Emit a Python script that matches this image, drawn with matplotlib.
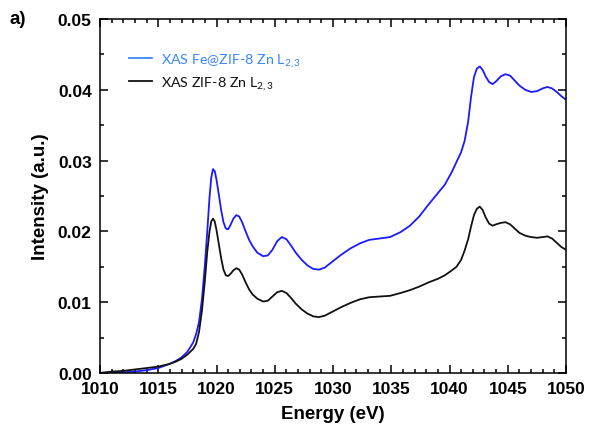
import matplotlib
matplotlib.use("Agg")
import matplotlib.pyplot as plt
from matplotlib.ticker import MultipleLocator, FormatStrFormatter

plt.rcParams['font.family'] = ['Liberation Sans', 'DejaVu Sans']
plt.rcParams['mathtext.fontset'] = 'custom'
plt.rcParams['mathtext.rm'] = 'Lato'
plt.rcParams['mathtext.it'] = 'Lato'

energy = [1010, 1011, 1012, 1013, 1014, 1015, 1016, 1016.5, 1017, 1017.5, 1018, 1018.25,
          1018.5, 1018.75, 1019.0, 1019.2, 1019.4, 1019.55, 1019.7, 1019.85, 1020.0, 1020.2,
          1020.4, 1020.6, 1020.8, 1021.0, 1021.2, 1021.45, 1021.7, 1021.95, 1022.2, 1022.5,
          1022.8, 1023.1, 1023.5, 1024.0, 1024.4, 1024.8, 1025.2, 1025.6, 1026.0, 1026.4,
          1026.8, 1027.3, 1027.8, 1028.3, 1028.8, 1029.3, 1030.0, 1030.7, 1031.5, 1032.3,
          1033.1, 1034.0, 1034.9, 1035.8, 1036.6, 1037.4, 1038.2, 1039.0, 1039.6, 1040.2,
          1040.6, 1041.0, 1041.3, 1041.6, 1041.85, 1042.1, 1042.35, 1042.6, 1042.85, 1043.1,
          1043.4, 1043.7, 1044.0, 1044.4, 1044.8, 1045.2, 1045.6, 1046.0, 1046.5, 1047.0,
          1047.5, 1048.0, 1048.4, 1048.8, 1049.2, 1049.6, 1050.0]

fe_zif8 = [0.0000, 0.0001, 0.0001, 0.0002, 0.0004, 0.0007, 0.0013, 0.0017, 0.0022, 0.0030,
           0.0043, 0.0055, 0.0072, 0.0104, 0.0152, 0.0198, 0.0248, 0.0276, 0.0288, 0.0285,
           0.0273, 0.0252, 0.0230, 0.0213, 0.0204, 0.0203, 0.0209, 0.0218, 0.0223, 0.0221,
           0.0213, 0.0200, 0.0188, 0.0179, 0.0170, 0.0165, 0.0166, 0.0174, 0.0186, 0.0192,
           0.0189, 0.0180, 0.0170, 0.0160, 0.0152, 0.0147, 0.0146, 0.0149, 0.0158, 0.0167,
           0.0176, 0.0183, 0.0188, 0.0190, 0.0192, 0.0199, 0.0208, 0.0221, 0.0238, 0.0254,
           0.0266, 0.0284, 0.0298, 0.0312, 0.0328, 0.0355, 0.0390, 0.0418, 0.0430, 0.0433,
           0.0428, 0.0419, 0.0411, 0.0408, 0.0412, 0.0419, 0.0422, 0.0420, 0.0413, 0.0406,
           0.0400, 0.0397, 0.0398, 0.0402, 0.0404, 0.0402, 0.0397, 0.0391, 0.0386]

zif8 = [0.0000, 0.0002, 0.0003, 0.0005, 0.0007, 0.0009, 0.0013, 0.0016, 0.0020, 0.0026,
        0.0034, 0.0041, 0.0058, 0.0088, 0.0130, 0.0170, 0.0200, 0.0214, 0.0218, 0.0214,
        0.0202, 0.0182, 0.0162, 0.0146, 0.0138, 0.0137, 0.0140, 0.0145, 0.0148, 0.0146,
        0.0139, 0.0128, 0.0118, 0.0111, 0.0105, 0.0101, 0.0102, 0.0108, 0.0114, 0.0116,
        0.0113, 0.0106, 0.0098, 0.0090, 0.0084, 0.0080, 0.0079, 0.0081, 0.0087, 0.0093,
        0.0099, 0.0104, 0.0107, 0.0108, 0.0109, 0.0113, 0.0117, 0.0122, 0.0128, 0.0133,
        0.0138, 0.0145, 0.0150, 0.0160, 0.0173, 0.0189, 0.0207, 0.0223, 0.0232, 0.0235,
        0.0230, 0.0220, 0.0211, 0.0208, 0.0210, 0.0212, 0.0213, 0.0210, 0.0204, 0.0198,
        0.0194, 0.0192, 0.0191, 0.0192, 0.0193, 0.0190, 0.0184, 0.0178, 0.0174]

labels = ['XAS Fe@ZIF-8 Zn L$_{2,3}$', 'XAS ZIF-8 Zn L$_{2,3}$']
line_colors = ['#1a1aff', '#111111']
legend_colors = ['#3a86ff', '#111111']

fig = plt.figure(figsize=(5.91, 4.39), dpi=100)
ax = fig.add_axes([100/591, 1-374/439, 466/591, 354/439])

ax.plot(energy, fe_zif8, color=line_colors[0], lw=1.3, label=labels[0])
ax.plot(energy, zif8, color=line_colors[1], lw=1.3, label=labels[1])

ax.set_xlim(1010, 1050)
ax.set_ylim(0, 0.05)
ax.xaxis.set_major_locator(MultipleLocator(5))
ax.xaxis.set_minor_locator(MultipleLocator(1))
ax.yaxis.set_major_locator(MultipleLocator(0.01))
ax.yaxis.set_minor_locator(MultipleLocator(0.005))
ax.yaxis.set_major_formatter(FormatStrFormatter('%.2f'))
ax.tick_params(which='both', direction='in', top=True, right=True, width=1.1)
ax.tick_params(which='major', length=6, labelsize=12.5, pad=6)
ax.tick_params(which='minor', length=3)
for lab in ax.get_xticklabels() + ax.get_yticklabels():
    lab.set_fontweight('bold')
for sp in ax.spines.values():
    sp.set_linewidth(1.1)

ax.set_xlabel('Energy (eV)', fontsize=13.5, fontweight='bold', labelpad=6)
ax.set_ylabel('Intensity (a.u.)', fontsize=13.5, fontweight='bold', labelpad=6)

leg = ax.legend(loc='upper left', bbox_to_anchor=(0.035, 0.945), frameon=False,
                handlelength=1.6, handletextpad=0.65, labelspacing=0.4,
                labelcolor=legend_colors, prop={'family': 'Lato', 'size': 10.3})
leg.get_lines()[0].set_color(legend_colors[0])

fig.text(10/591, 1-20/439, 'a)', fontsize=13.5, fontweight='bold', va='center', ha='left')

fig.savefig('out.png', dpi=100)
